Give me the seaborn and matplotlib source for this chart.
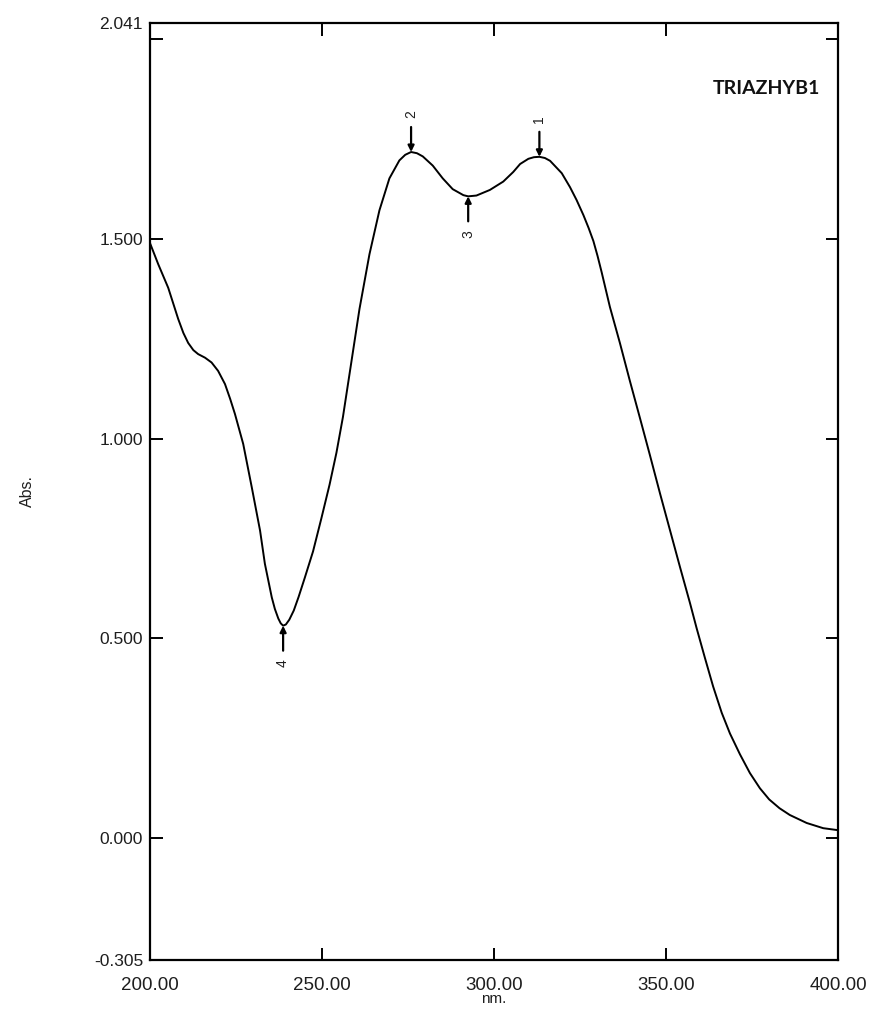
import numpy as np
import pandas as pd
import matplotlib
matplotlib.use("Agg")
import matplotlib.pyplot as plt
import seaborn as sns

# UV-Vis absorption spectrum of TRIAZHYB1
wavelength = [
    200.0, 202.4, 205.3, 208.2, 209.7, 211.1, 212.6, 214.0, 216.0, 217.9,
    219.8, 221.8, 223.3, 224.7, 227.1, 229.6, 232.0, 233.4, 235.4, 236.3,
    237.3, 238.0, 238.7, 239.5, 240.5, 241.8, 243.2, 245.0, 247.4, 249.8,
    252.2, 254.2, 256.1, 258.5, 260.9, 263.8, 266.7, 269.6, 272.5, 274.2,
    275.9, 277.6, 279.3, 282.2, 285.1, 288.0, 291.1, 292.5, 294.9, 298.8,
    302.7, 305.6, 307.6, 310.0, 311.6, 313.2, 314.8, 316.3, 319.7, 322.1,
    324.0, 326.0, 327.5, 328.9, 330.1, 331.3, 333.7, 336.6, 339.5, 342.4,
    345.3, 348.3, 351.2, 354.1, 357.0, 358.9, 361.3, 363.7, 366.2, 368.6,
    371.5, 374.4, 377.3, 380.0, 383.0, 386.0, 390.9, 395.7, 400.0,
]
absorbance = [
    1.490, 1.437, 1.378, 1.300, 1.265, 1.240, 1.222, 1.212, 1.203, 1.191,
    1.170, 1.137, 1.100, 1.062, 0.987, 0.878, 0.770, 0.687, 0.603, 0.574,
    0.550, 0.538, 0.532, 0.535, 0.547, 0.570, 0.604, 0.652, 0.718, 0.800,
    0.885, 0.965, 1.055, 1.190, 1.325, 1.462, 1.572, 1.652, 1.697, 1.711,
    1.718, 1.715, 1.707, 1.684, 1.652, 1.625, 1.610, 1.607, 1.609, 1.623,
    1.644, 1.668, 1.688, 1.701, 1.705, 1.706, 1.703, 1.696, 1.665, 1.630,
    1.598, 1.560, 1.528, 1.495, 1.458, 1.417, 1.330, 1.240, 1.145, 1.053,
    0.960, 0.862, 0.770, 0.678, 0.588, 0.526, 0.452, 0.380, 0.314, 0.262,
    0.210, 0.163, 0.125, 0.097, 0.075, 0.058, 0.038, 0.025, 0.020,
]

# Peak / valley picks (1, 2 = maxima; 3, 4 = minima)
pick_labels = ["1", "2", "3", "4"]
pick_nm = [313.2, 275.9, 292.5, 238.7]
pick_abs = [1.706, 1.718, 1.607, 0.532]
pick_is_peak = [True, True, False, False]

x_ticks = [200, 250, 300, 350, 400]
x_ticklabels = ["200.00", "250.00", "300.00", "350.00", "400.00"]
y_ticks = [-0.305, 0.0, 0.5, 1.0, 1.5, 2.0, 2.041]
y_ticklabels = ["-0.305", "0.000", "0.500", "1.000", "1.500", "", "2.041"]
y_min, y_max = -0.305, 2.041
sample_name = "TRIAZHYB1"

sns.set_theme(style="white")
plt.rcParams["font.family"] = ["Liberation Sans", "DejaVu Sans"]

df = pd.DataFrame({"nm": wavelength, "Abs": absorbance})

fig = plt.figure(figsize=(8.69, 10.18), dpi=100)
ax = fig.add_axes([0.1726, 0.057, 0.7917, 0.9204])

sns.lineplot(data=df, x="nm", y="Abs", sort=False, estimator=None,
             color="black", linewidth=1.4, ax=ax)

ax.set_xlim(200, 400)
ax.set_ylim(y_min, y_max)

for sp in ax.spines.values():
    sp.set_visible(True)
    sp.set_color("black")
    sp.set_linewidth(1.6)

ax.set_xticks(x_ticks)
ax.set_xticklabels(x_ticklabels)
ax.set_yticks(y_ticks)
ax.set_yticklabels(y_ticklabels)
ax.tick_params(axis="both", which="major", direction="in", length=9,
               width=1.4, color="black", labelcolor="#1e1e1e",
               top=True, right=True, bottom=True, left=True)
ax.tick_params(axis="x", pad=12, labelsize=13.5)
ax.tick_params(axis="y", pad=5, labelsize=12.5)

# axis-end labels carry no tick marks
for t in ax.yaxis.get_major_ticks():
    if abs(t.get_loc() - y_min) < 1e-6 or abs(t.get_loc() - y_max) < 1e-6:
        t.tick1line.set_visible(False)
        t.tick2line.set_visible(False)

ax.set_xlabel("nm.", fontsize=11, color="#1e1e1e", labelpad=-1)
ax.set_ylabel("Abs.", fontsize=11.5, color="#1e1e1e", labelpad=42)

# peak pick arrows
for lab, px, py, is_peak in zip(pick_labels, pick_nm, pick_abs, pick_is_peak):
    sgn = 1 if is_peak else -1
    ax.annotate("", xy=(px, py), xytext=(0, sgn * 18), textcoords="offset points",
                arrowprops=dict(arrowstyle="-|>", color="black", lw=1.6,
                                mutation_scale=9, shrinkA=0, shrinkB=0))
    ax.annotate(lab, xy=(px, py), xytext=(0, sgn * 27), textcoords="offset points",
                rotation=90, ha="center", va="center", fontsize=10, color="#1e1e1e")

ax.text(0.896, 0.9306, sample_name, transform=ax.transAxes, ha="center", va="center",
        fontsize=14, fontweight="bold", family=["Lato", "DejaVu Sans"], color="#111111")

fig.savefig("out.png", dpi=100, facecolor="white")
